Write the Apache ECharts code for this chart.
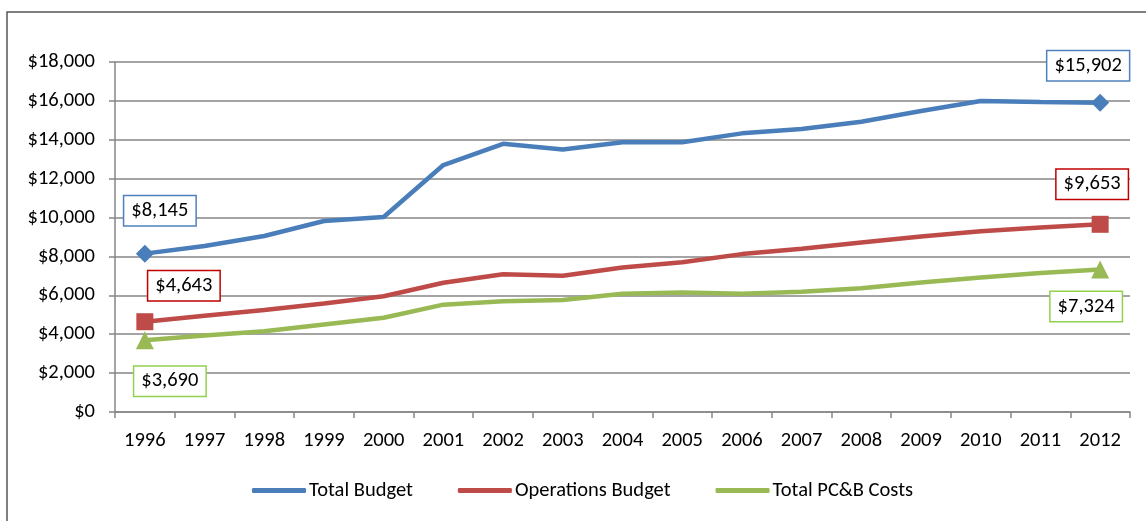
<!DOCTYPE html>
<html><head><meta charset="utf-8">
<script src="https://cdn.jsdelivr.net/npm/echarts@6/dist/echarts.min.js"></script>
<style>html,body{margin:0;padding:0;background:#fff}#c{width:1146px;height:521px}</style>
</head><body><div id="c"></div>
<script>
var years = ['1996','1997','1998','1999','2000','2001','2002','2003','2004','2005','2006','2007','2008','2009','2010','2011','2012'];
var totalBudget = [8145, 8540, 9050, 9820, 10030, 12700, 13790, 13500, 13870, 13870, 14330, 14550, 14930, 15480, 15990, 15940, 15902];
var operationsBudget = [4643, 4950, 5250, 5580, 5950, 6650, 7080, 7010, 7430, 7700, 8120, 8390, 8720, 9030, 9300, 9490, 9653];
var pcbCosts = [3690, 3930, 4150, 4500, 4850, 5520, 5690, 5760, 6080, 6150, 6080, 6180, 6370, 6660, 6920, 7150, 7324];
var yTicks = [0, 2000, 4000, 6000, 8000, 10000, 12000, 14000, 16000, 18000];

var FONT = 'Carlito, Lato, "Open Sans", sans-serif';
var FS = 20.5;
function money(v){ return '$' + Number(v).toLocaleString('en-US'); }

function buildData(vals, symbol, size, border, offFirst, offLast){
  var last = vals.length - 1;
  return vals.map(function(v, i){
    if (i !== 0 && i !== last) return {value: v, symbol: 'none'};
    return {
      value: v, symbol: symbol, symbolSize: size,
      label: {
        show: true, position: 'inside', offset: i === 0 ? offFirst : offLast,
        formatter: function(p){ return money(p.value); },
        color: '#000', fontSize: FS, fontFamily: FONT, lineHeight: 22,
        backgroundColor: '#fff', borderColor: border, borderWidth: 1.5,
        padding: [4, 7, 3, 7]
      }
    };
  });
}

var chart = echarts.init(document.getElementById('c'));
chart.setOption({
  animation: false,
  graphic: [{type: 'rect', shape: {x: 7, y: 12, width: 1200, height: 600},
    style: {fill: 'none', stroke: '#555', lineWidth: 1.5}, silent: true}],
  grid: {left: 115, right: 16, top: 62, bottom: 109},
  legend: {
    left: 247, top: 475, itemWidth: 54, itemHeight: 5, itemGap: 45,
    icon: 'roundRect',
    textStyle: {fontSize: FS, fontFamily: FONT, color: '#000', padding: [0, 0, 0, -2]},
    data: ['Total Budget', 'Operations Budget', 'Total PC&B Costs']
  },
  xAxis: {
    type: 'category', data: years, boundaryGap: true,
    axisLine: {lineStyle: {color: '#868686', width: 1.5}},
    axisTick: {show: true, length: 6, lineStyle: {color: '#868686', width: 1.5}},
    axisLabel: {color: '#000', fontSize: FS, fontFamily: FONT, margin: 18, interval: 0}
  },
  yAxis: {
    type: 'value', min: 0, max: 18000, interval: 2000,
    axisLine: {show: true, lineStyle: {color: '#868686', width: 1.5}},
    axisTick: {show: true, length: 6, lineStyle: {color: '#868686', width: 1.5}},
    splitLine: {lineStyle: {color: '#868686', width: 1.5}},
    axisLabel: {color: '#000', fontSize: FS, fontFamily: FONT, margin: 20,
      formatter: function(v){ return yTicks.indexOf(v) >= 0 ? money(v) : ''; }}
  },
  series: [
    {name: 'Total Budget', type: 'line', color: '#4A7EBB',
     lineStyle: {width: 4.5, color: '#4A7EBB'}, itemStyle: {color: '#4A7EBB'},
     data: buildData(totalBudget, 'diamond', 18, '#4F81BD', [15, -43], [-12, -37])},
    {name: 'Operations Budget', type: 'line', color: '#BE4B48',
     lineStyle: {width: 4.5, color: '#BE4B48'}, itemStyle: {color: '#BE4B48'},
     data: buildData(operationsBudget, 'rect', 17, '#C00000', [39, -36], [-8, -40])},
    {name: 'Total PC&B Costs', type: 'line', color: '#98B954',
     lineStyle: {width: 4.5, color: '#98B954'}, itemStyle: {color: '#98B954'},
     data: buildData(pcbCosts, 'triangle', 18, '#92D050', [25, 41], [-14, 37])}
  ]
});
</script></body></html>
